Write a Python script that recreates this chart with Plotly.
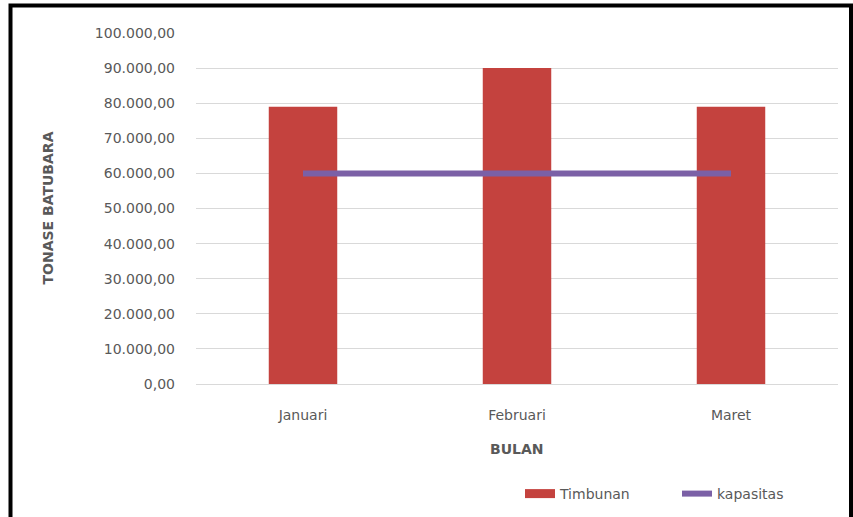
import plotly.graph_objects as go

bulan = ["Januari", "Februari", "Maret"]
timbunan = [79000, 90000, 79000]
kapasitas = [60000, 60000, 60000]
y_ticks = [0, 10000, 20000, 30000, 40000, 50000, 60000, 70000, 80000, 90000, 100000]

W, H = 853, 517
L, R, T, B = 196, 15, 33, 133
pw, ph = W - L - R, H - T - B

def px(x):
    return (x - L) / pw

def py(y):
    return (H - B - y) / ph

BAR_COLOR = "#C4423E"
LINE_COLOR = "#7B60A6"

fig = go.Figure()
fig.add_trace(go.Bar(
    x=bulan, y=timbunan, name="Timbunan", showlegend=False,
    marker=dict(color=BAR_COLOR, line=dict(width=0)),
    width=0.32,
))
# legend entry drawn as a wide red swatch, like the original
fig.add_trace(go.Scatter(
    x=[None], y=[None], name="Timbunan", mode="lines",
    line=dict(color=BAR_COLOR, width=9),
))
fig.add_trace(go.Scatter(
    x=bulan, y=kapasitas, name="kapasitas", mode="lines",
    line=dict(color=LINE_COLOR, width=6),
))

fig.update_layout(
    width=W, height=H,
    margin=dict(l=L, r=R, t=T, b=B, autoexpand=False),
    paper_bgcolor="white", plot_bgcolor="white",
    separators=",.",
    font=dict(family="DejaVu Sans", size=14, color="#595959"),
    showlegend=True,
    legend=dict(orientation="h", x=px(520), xanchor="left", y=py(494), yanchor="middle",
                font=dict(size=14, color="#595959"), traceorder="normal",
                entrywidth=112, entrywidthmode="pixels",
                bgcolor="rgba(0,0,0,0)"),
)
fig.update_xaxes(showgrid=False, showline=False, ticks="", ticklabelstandoff=21,
                 tickfont=dict(size=14, color="#595959"))
fig.update_yaxes(range=[0, 100000], tickvals=y_ticks, tickformat=",.2f",
                 showgrid=True, gridcolor="#D9D9D9", gridwidth=1,
                 zeroline=True, zerolinecolor="#D9D9D9", zerolinewidth=1,
                 showline=False, ticks="", ticklabelstandoff=20,
                 tickfont=dict(size=14, color="#595959"))

fig.add_annotation(text="<b>TONASE BATUBARA</b>", xref="paper", yref="paper",
                   x=px(47), y=0.5, xanchor="center", yanchor="middle",
                   textangle=-90, showarrow=False,
                   font=dict(size=14, color="#595959"))
fig.add_annotation(text="<b>BULAN</b>", xref="paper", yref="paper",
                   x=0.5, y=py(449), xanchor="center", yanchor="middle", showarrow=False,
                   font=dict(size=14, color="#595959"))

fig.add_shape(type="rect", xref="paper", yref="paper",
              x0=px(10.5), x1=px(851), y0=py(530), y1=py(5.5),
              line=dict(color="black", width=4), fillcolor="rgba(0,0,0,0)", layer="below")

fig.write_html("out.html")
